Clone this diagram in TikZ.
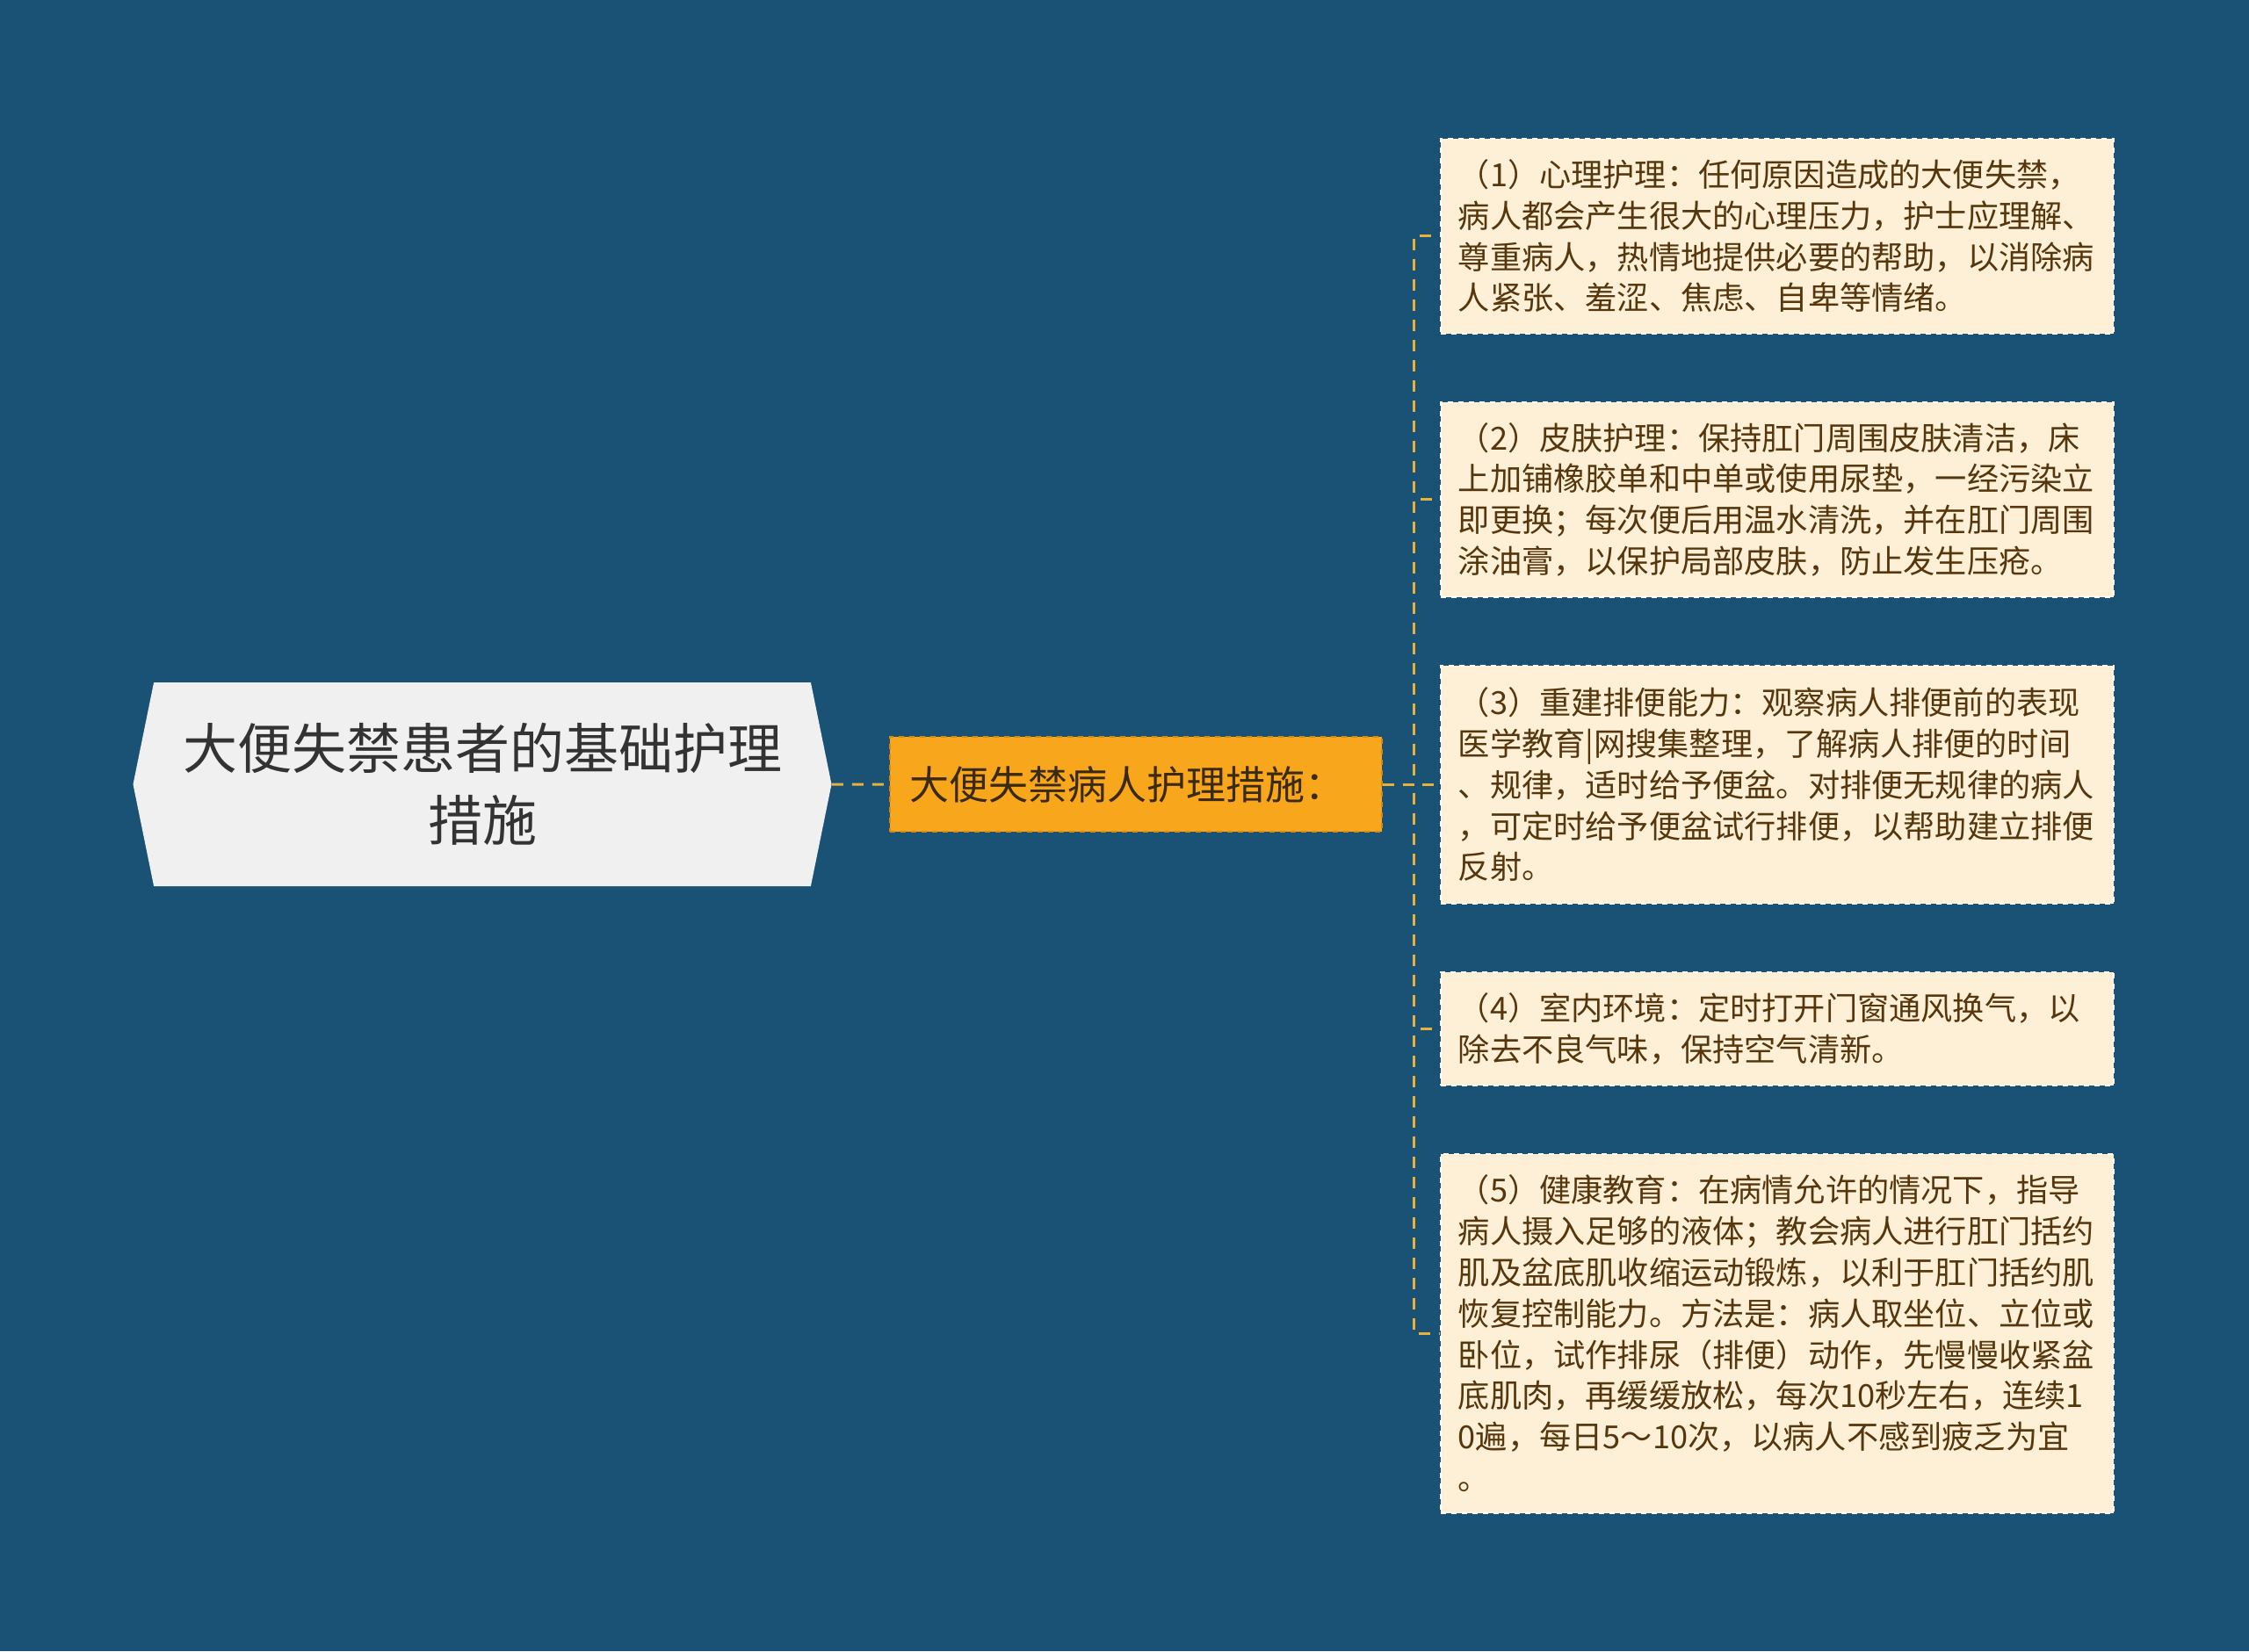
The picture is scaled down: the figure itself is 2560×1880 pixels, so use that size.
\documentclass[tikz,border=0pt]{standalone}
\usepackage{fontspec}
\setmainfont{Noto Sans CJK SC}
\usetikzlibrary{positioning,shapes.symbols}

\definecolor{bgblue}{RGB}{26,82,118}
\definecolor{rootgray}{RGB}{240,240,240}
\definecolor{roottext}{RGB}{51,51,51}
\definecolor{midorange}{RGB}{248,167,28}
\definecolor{midedge}{RGB}{214,138,22}
\definecolor{midtext}{RGB}{58,42,18}
\definecolor{leafcream}{RGB}{253,240,214}
\definecolor{leaftext}{RGB}{86,54,12}
\definecolor{linkgold}{RGB}{232,178,58}

\tikzset{
  rootnode/.style={signal, signal to=west and east, signal pointer angle=157,
    fill=rootgray, text=roottext, minimum width=397.5pt, minimum height=116pt,
    align=center, font=\fontsize{31}{41}\selectfont},
  midnode/.style={rectangle, fill=midorange, draw=midedge, dashed, line width=0.8pt,
    text width=257pt, inner xsep=11.5pt, minimum height=54pt, align=left,
    text=midtext, font=\fontsize{22.5}{27}\selectfont},
  leafnode/.style={rectangle, fill=leafcream, draw=white, dashed, line width=0.8pt,
    text width=363pt, inner xsep=10pt, inner ysep=2pt, align=left,
    text=leaftext, font=\fontsize{18.1}{23.4}\selectfont},
  linkline/.style={draw=linkgold, line width=1.5pt, dash pattern=on 6.5pt off 5pt},
}

\begin{document}
\begin{tikzpicture}[x=0.5pt,y=-0.5pt,node distance=38.2pt]
  \fill[bgblue] (0,0) rectangle (2560,1880);
  \useasboundingbox (0,0) rectangle (2560,1880);

  \node[rootnode] (root) at (549,893) {大便失禁患者的基础护理\\措施};
  \node[midnode, right=32.5pt of root] (mid) {大便失禁病人护理措施：};

  \node[leafnode, anchor=north west, minimum height=111pt] (c1) at (1639,157)
    {（1）心理护理：任何原因造成的大便失禁，\\病人都会产生很大的心理压力，护士应理解、\\尊重病人，热情地提供必要的帮助，以消除病\\人紧张、羞涩、焦虑、自卑等情绪。};
  \node[leafnode, below=of c1, minimum height=111pt] (c2)
    {（2）皮肤护理：保持肛门周围皮肤清洁，床\\上加铺橡胶单和中单或使用尿垫，一经污染立\\即更换；每次便后用温水清洗，并在肛门周围\\涂油膏，以保护局部皮肤，防止发生压疮。};
  \node[leafnode, below=of c2, minimum height=135.5pt] (c3)
    {（3）重建排便能力：观察病人排便前的表现\\医学教育|网搜集整理，了解病人排便的时间\\、规律，适时给予便盆。对排便无规律的病人\\，可定时给予便盆试行排便，以帮助建立排便\\反射。};
  \node[leafnode, below=of c3, minimum height=64.5pt] (c4)
    {（4）室内环境：定时打开门窗通风换气，以\\除去不良气味，保持空气清新。};
  \node[leafnode, below=of c4, minimum height=204.5pt] (c5)
    {（5）健康教育：在病情允许的情况下，指导\\病人摄入足够的液体；教会病人进行肛门括约\\肌及盆底肌收缩运动锻炼，以利于肛门括约肌\\恢复控制能力。方法是：病人取坐位、立位或\\卧位，试作排尿（排便）动作，先慢慢收紧盆\\底肌肉，再缓缓放松，每次10秒左右，连续1\\0遍，每日5～10次，以病人不感到疲乏为宜\\。};

  \draw[linkline] (root) -- (mid);
  \coordinate[right=18pt of mid.east] (fork);
  \foreach \c in {c1,c2,c3,c4,c5}
    \draw[linkline] (mid.east) -- (fork) |- (\c.west);
\end{tikzpicture}
\end{document}
